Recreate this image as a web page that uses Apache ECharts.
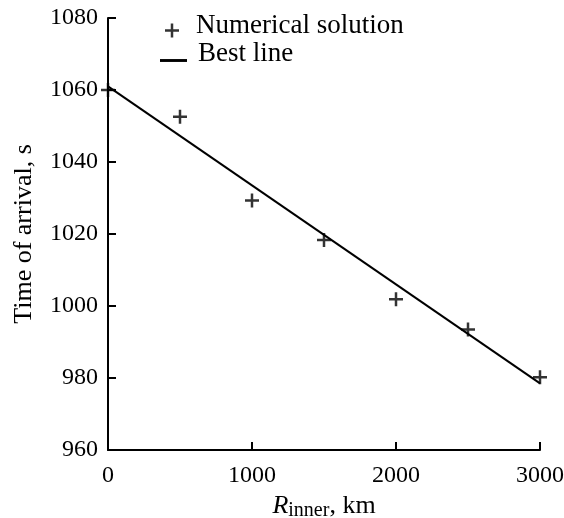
<!DOCTYPE html>
<html>
<head>
<meta charset="utf-8">
<script src="https://cdn.jsdelivr.net/npm/echarts@6/dist/echarts.min.js"></script>
<style>
  html, body { margin: 0; padding: 0; background: #fff; }
  #chart { width: 564px; height: 518px; }
</style>
</head>
<body>
<div id="chart"></div>
<script>
// 数据
const radius = [0, 500, 1000, 1500, 2000, 2500, 3000]
const arrival = [1060, 1052.6, 1029.3, 1018.3, 1001.9, 993.5, 980.2]
const fitX = [0, 3000]
const fitY = [1061, 978.5]
const xTicks = [0, 1000, 2000, 3000]
const yTicks = [960, 980, 1000, 1020, 1040, 1060, 1080]

const font = 'Liberation Serif, Times New Roman, serif'
// 加号符号，线宽约 2.5px
const plus = 'path://M5.75,0h2.5v5.75h5.75v2.5h-5.75v5.75h-2.5v-5.75h-5.75v-2.5h5.75z'

const chart = echarts.init(document.getElementById('chart'))

const labelStyle = {
  color: '#000',
  fontFamily: font,
  fontSize: 24,
  formatter: v => String(v)
}

// 图例文字用 rich 的 padding 向上偏移
const legendText = (padLeft, padBottom) => ({
  color: '#000',
  fontFamily: font,
  fontSize: 27,
  rich: {
    t: { color: '#000', fontFamily: font, fontSize: 27, padding: [0, 0, padBottom, padLeft] }
  }
})

chart.setOption({
  animation: false,
  grid: { left: 108, right: 24, top: 18, bottom: 68, outerBoundsMode: 'none' },
  legend: [
    {
      data: [{ name: 'Numerical solution', icon: plus }],
      formatter: '{t|{name}}',
      left: 160, top: 7,
      itemWidth: 14, itemHeight: 14,
      textStyle: legendText(12, 10)
    },
    {
      data: [{ name: 'Best line', icon: 'path://M0,0h28v3h-28z' }],
      formatter: '{t|{name}}',
      left: 155, top: 35,
      itemWidth: 27, itemHeight: 3,
      textStyle: legendText(6, 14)
    }
  ],
  xAxis: {
    type: 'value',
    min: xTicks[0], max: xTicks[xTicks.length - 1], interval: 1000,
    axisLine: { lineStyle: { color: '#000', width: 2 } },
    axisTick: { inside: true, length: 8, lineStyle: { color: '#000', width: 2 } },
    axisLabel: { ...labelStyle, margin: 14 },
    splitLine: { show: false },
    name: '{i|R}{s|inner}{n|, km}',
    nameLocation: 'middle',
    nameGap: 33,
    nameTextStyle: {
      color: '#000', fontFamily: font, fontSize: 26,
      rich: {
        i: { fontStyle: 'italic', fontFamily: font, fontSize: 26, color: '#000' },
        s: { fontFamily: font, fontSize: 20, color: '#000', verticalAlign: 'bottom', padding: [10, 0, 0, 0] },
        n: { fontFamily: font, fontSize: 26, color: '#000' }
      }
    }
  },
  yAxis: {
    type: 'value',
    min: yTicks[0], max: yTicks[yTicks.length - 1], interval: 20,
    axisLine: { lineStyle: { color: '#000', width: 2 } },
    axisTick: { inside: true, length: 8, lineStyle: { color: '#000', width: 2 } },
    axisLabel: { ...labelStyle, margin: 10 },
    splitLine: { show: false },
    name: 'Time of arrival, s',
    nameLocation: 'middle',
    nameGap: 71,
    nameTextStyle: { color: '#000', fontFamily: font, fontSize: 26 }
  },
  series: [
    {
      name: 'Numerical solution',
      type: 'scatter',
      symbol: plus,
      symbolSize: 14,
      itemStyle: { color: '#000' },
      data: radius.map((r, i) => [r, arrival[i]]),
      z: 3
    },
    {
      name: 'Best line',
      type: 'line',
      showSymbol: false,
      lineStyle: { color: '#000', width: 2 },
      itemStyle: { color: '#000' },
      data: fitX.map((x, i) => [x, fitY[i]])
    }
  ]
})
</script>
</body>
</html>
